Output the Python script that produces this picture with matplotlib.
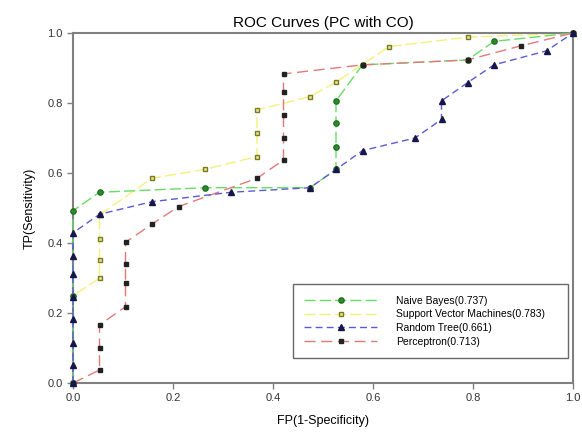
import matplotlib
matplotlib.use("Agg")
import matplotlib.pyplot as plt

plt.rcParams["font.family"] = ["Liberation Sans", "DejaVu Sans"]

# --------------------------
# Daten
# --------------------------
nb_fp = [0.0, 0.0, 0.0, 0.053, 0.263, 0.474, 0.526, 0.526, 0.526, 0.526, 0.579, 0.789, 0.842, 1.0]
nb_tp = [0.0, 0.25, 0.492, 0.545, 0.558, 0.558, 0.61, 0.675, 0.742, 0.806, 0.909, 0.923, 0.976, 1.0]

svm_fp = [0.0, 0.0, 0.053, 0.053, 0.053, 0.053, 0.158, 0.263, 0.368, 0.368, 0.368, 0.474, 0.526, 0.632, 0.789, 1.0]
svm_tp = [0.0, 0.25, 0.299, 0.351, 0.41, 0.48, 0.585, 0.61, 0.647, 0.713, 0.78, 0.818, 0.86, 0.961, 0.988, 1.0]

rt_fp = [0.0, 0.0, 0.0, 0.0, 0.0, 0.0, 0.0, 0.0, 0.053, 0.158, 0.316, 0.474, 0.526,
         0.579, 0.684, 0.737, 0.737, 0.789, 0.842, 0.947, 1.0]
rt_tp = [0.0, 0.051, 0.115, 0.182, 0.247, 0.311, 0.363, 0.429, 0.482, 0.518, 0.545, 0.558, 0.61,
         0.664, 0.70, 0.753, 0.806, 0.858, 0.909, 0.949, 1.0]

pc_fp = [0.0, 0.053, 0.053, 0.053, 0.105, 0.105, 0.105, 0.105, 0.158, 0.211, 0.368,
         0.421, 0.421, 0.421, 0.421, 0.421, 0.579, 0.789, 0.895, 1.0]
pc_tp = [0.0, 0.037, 0.101, 0.166, 0.218, 0.285, 0.34, 0.402, 0.454, 0.504, 0.585,
         0.637, 0.70, 0.766, 0.831, 0.883, 0.909, 0.923, 0.963, 1.0]

labels = ["Naive Bayes(0.737)", "Support Vector Machines(0.783)",
          "Random Tree(0.661)", "Perceptron(0.713)"]
ticks = [0.0, 0.2, 0.4, 0.6, 0.8, 1.0]

fig = plt.figure(figsize=(5.82, 4.44), dpi=100)
ax = fig.add_axes([73 / 582, 61 / 444, 500 / 582, 350 / 444])

ax.plot(nb_fp, nb_tp, color="#66dd66", lw=1.0, dashes=(8, 3), zorder=3,
        marker="o", ms=3.8, mfc="#2e8b2e", mec="#1f6f1f", clip_on=False, label=labels[0])
ax.plot(svm_fp, svm_tp, color="#f2f27a", lw=1.0, dashes=(8, 3), zorder=2,
        marker="s", ms=3.4, mfc="#e6e690", mec="#7a7a20", clip_on=False, label=labels[1])
ax.plot(rt_fp, rt_tp, color="#5a5ad8", lw=1.0, dashes=(5, 3), zorder=4,
        marker="^", ms=3.8, mfc="#16164a", mec="#16164a", clip_on=False, label=labels[2])
ax.plot(pc_fp, pc_tp, color="#e27a7a", lw=1.0, dashes=(8, 4), zorder=3,
        marker="s", ms=2.4, mfc="#222222", mec="#222222", clip_on=False, label=labels[3])

ax.set_xlim(0, 1)
ax.set_ylim(0, 1)
ax.set_xticks(ticks)
ax.set_yticks(ticks)
ax.set_xticklabels([f"{t:.1f}" for t in ticks])
ax.set_yticklabels([f"{t:.1f}" for t in ticks])
ax.tick_params(direction="out", length=4, width=1, color="#808080",
               labelsize=8, labelcolor="#333333")
for s in ax.spines.values():
    s.set_color("#808080")
    s.set_linewidth(1.5)

ax.set_title("ROC Curves (PC with CO)", fontsize=11, pad=4)
ax.set_xlabel("FP(1-Specificity)", fontsize=9, labelpad=8)
ax.set_ylabel("TP(Sensitivity)", fontsize=9, labelpad=8)

leg = ax.legend(loc="lower left", bbox_to_anchor=(0.44, 0.071, 0.55, 0.226), mode="expand",
                fontsize=7.5, frameon=True, fancybox=False, handlelength=7,
                borderpad=1.1, labelspacing=0.35, handletextpad=1.8, borderaxespad=0)
leg.get_frame().set_edgecolor("#444444")
leg.get_frame().set_linewidth(1.0)

fig.savefig("out.png", dpi=100)
